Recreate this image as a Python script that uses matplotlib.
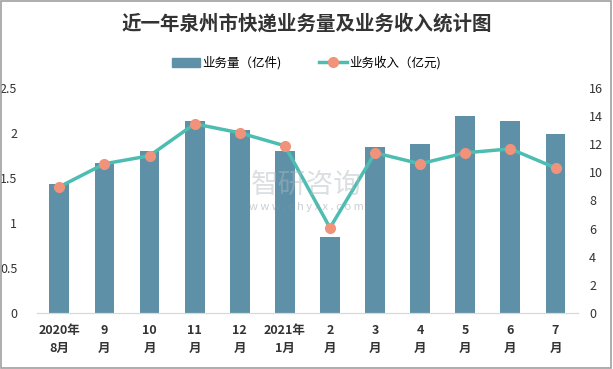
import matplotlib.pyplot as plt
from matplotlib.patches import Rectangle
from matplotlib.lines import Line2D

plt.rcParams['font.family'] = ['Noto Sans CJK SC', 'DejaVu Sans']

months = ['2020年\n8月', '9\n月', '10\n月', '11\n月', '12\n月', '2021年\n1月',
          '2\n月', '3\n月', '4\n月', '5\n月', '6\n月', '7\n月']
volume = [1.43, 1.66, 1.80, 2.13, 2.03, 1.80, 0.84, 1.84, 1.88, 2.19, 2.13, 1.99]
revenue = [8.96, 10.6, 11.17, 13.44, 12.8, 11.88, 6.05, 11.38, 10.6, 11.38, 11.66, 10.31]

bar_color = '#5e91a7'
line_color = '#4dbdb2'
dot_color = '#f0937a'

fig = plt.figure(figsize=(6.13, 3.69), dpi=100)
ax = fig.add_axes([0.060, 0.152, 0.883, 0.610])
ax2 = ax.twinx()

x = list(range(len(months)))
ax.bar(x, volume, width=0.44, color=bar_color, zorder=2)
ax2.plot(x, revenue, color=line_color, lw=2.5, marker='o', ms=7,
         mfc=dot_color, mec=dot_color, zorder=3)

ax.set_xlim(-0.5, len(months) - 0.5)
ax.set_ylim(0, 2.5)
ax.set_yticks([0, 0.5, 1, 1.5, 2, 2.5])
ax.set_yticklabels(['0', '0.5', '1', '1.5', '2', '2.5'])
ax2.set_ylim(0, 16)
ax2.set_yticks(range(0, 17, 2))

ax.set_xticks(x)
ax.set_xticklabels(months, fontsize=9, fontweight='bold', color='#222222', linespacing=1.5)

for a in (ax, ax2):
    for s in ('top', 'left', 'right'):
        a.spines[s].set_visible(False)
    a.spines['bottom'].set_color('#d9d9d9')
    a.tick_params(length=0, labelsize=9, colors='#333333')
ax.tick_params(axis='y', pad=14)
ax2.tick_params(axis='y', pad=8)
ax.tick_params(axis='x', pad=8)

# watermark
fig.text(0.5, 0.50, '智研咨询', fontsize=20, color='#b0b8c0', alpha=0.45,
         ha='center', va='center')
fig.text(0.5, 0.44, 'w w w . c h y x x . c o m', fontsize=8, color='#8a949c', alpha=0.45,
         ha='center', va='center')

fig.text(0.5, 0.935, '近一年泉州市快递业务量及业务收入统计图', fontsize=14,
         fontweight='bold', color='#333333', ha='center', va='center')

handles = [Rectangle((0, 0), 1, 1, color=bar_color),
           Line2D([0], [0], color=line_color, lw=2.5, marker='o', ms=7,
                  mfc=dot_color, mec=dot_color)]
fig.legend(handles, ['业务量（亿件)', '业务收入（亿元)'], loc='center',
           bbox_to_anchor=(0.5, 0.83), ncol=2, frameon=False, fontsize=9,
           handlelength=2.2, handletextpad=0.2, columnspacing=3)

fig.add_artist(Rectangle((0.002, 0.003), 0.995, 0.993, transform=fig.transFigure,
                         fill=False, edgecolor='#a0a0a0', lw=1.2))

fig.savefig('out.png', dpi=100)
